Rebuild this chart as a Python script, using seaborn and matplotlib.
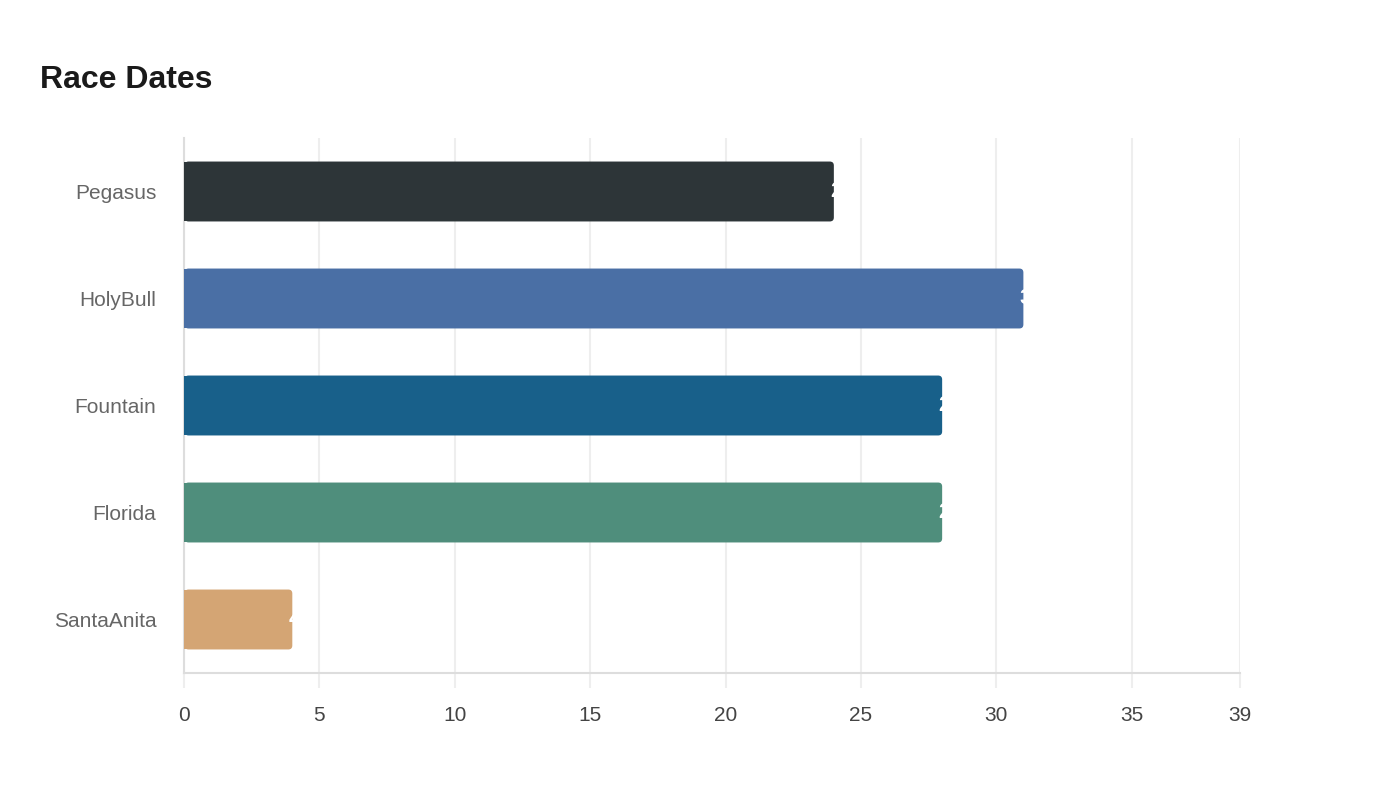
import matplotlib
matplotlib.use("Agg")
import matplotlib.pyplot as plt
from matplotlib.patches import FancyBboxPatch
import seaborn as sns
import pandas as pd

categories = ["Pegasus", "HolyBull", "Fountain", "Florida", "SantaAnita"]
values = [24, 31, 28, 28, 4]
colors = ["#2d3538", "#4a6fa5", "#18608a", "#4f8e7c", "#d4a574"]
x_ticks = [0, 5, 10, 15, 20, 25, 30, 35, 39]
title = "Race Dates"

sns.set_theme(style="white")
plt.rcParams['font.family'] = ['Liberation Sans', 'DejaVu Sans']

df = pd.DataFrame({"race": categories, "value": values})

fig = plt.figure(figsize=(14, 8), dpi=100)
ax = fig.add_axes([184/1400, 1 - 673/800, (1240-184)/1400, (673-138)/800])

sns.barplot(data=df, y="race", x="value", hue="race", palette=colors,
            order=categories, hue_order=categories, legend=False,
            width=0.56, saturation=1, ax=ax, zorder=3)

ax.set_xlim(0, 39)
ax.set_ylim(4.5, -0.5)

# rounded right corners
px_per_x = (1240 - 184) / 39
px_per_y = (673 - 138) / 5
r_px = 4
rx = r_px / px_per_x
ry = r_px / px_per_y
for p in list(ax.patches):
    x0, y0 = p.get_x(), p.get_y()
    w, h = p.get_width(), p.get_height()
    fc = p.get_facecolor()
    p.set_width(w / 2)
    p.set_edgecolor("none")
    p.set_linewidth(0)
    rb = FancyBboxPatch((x0 + 0.02, y0), w - 0.02, h,
                        boxstyle=f"round,pad=0,rounding_size={rx}",
                        mutation_aspect=ry / rx,
                        facecolor=fc, edgecolor="none", linewidth=0,
                        zorder=2.9)
    ax.add_patch(rb)

# value labels (white, at bar end)
for i, v in enumerate(values):
    ax.annotate(str(v), xy=(v, i), xytext=(-2.5, 0), textcoords="offset points",
                ha="left", va="center", color="white", fontsize=16,
                fontweight="bold", zorder=4)

ax.set_xticks(x_ticks)
ax.set_xticklabels([str(t) for t in x_ticks])
ax.xaxis.grid(True, color="#eeeeee", linewidth=1.5, zorder=0)
ax.yaxis.grid(False)
ax.set_xlabel("")
ax.set_ylabel("")

for s in ["top", "right"]:
    ax.spines[s].set_visible(False)
ax.spines["left"].set_color("#dddddd")
ax.spines["left"].set_linewidth(1.5)
ax.spines["bottom"].set_color("#dddddd")
ax.spines["bottom"].set_linewidth(1.5)

ax.tick_params(axis="x", length=11, width=1.5, color="#eeeeee", pad=13,
               labelsize=15, labelcolor="#444444", bottom=True)
ax.tick_params(axis="y", length=0, pad=20, labelsize=15, labelcolor="#666666")

fig.text(40/1400, 1 - 80/800, title, fontsize=23, fontweight="bold",
         color="#1a1a1a", ha="left", va="center")

fig.savefig("out.png", dpi=100, facecolor="white")
